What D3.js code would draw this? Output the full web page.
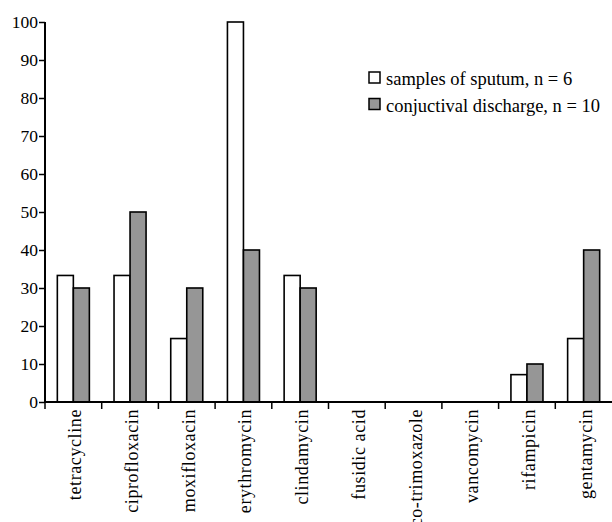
<!DOCTYPE html>
<html>
<head>
<meta charset="utf-8">
<script src="https://cdn.jsdelivr.net/npm/d3@7"></script>
<style>
  body { margin: 0; background: #fff; }
</style>
</head>
<body>
<script>
// Data
var drugs = ["tetracycline", "ciprofloxacin", "moxifloxacin", "erythromycin", "clindamycin",
    "fusidic acid", "co-trimoxazole", "vancomycin", "rifampicin", "gentamycin"];
var sputum = [33.3, 33.3, 16.7, 100, 33.3, 0, 0, 0, 7.2, 16.7];
var conjunctival = [30, 50, 30, 40, 30, 0, 0, 0, 10, 40];
var seriesNames = ["samples of sputum, n = 6", "conjuctival discharge, n = 10"];
var seriesColors = ["#ffffff", "#969696"];
var yTicks = [0, 10, 20, 30, 40, 50, 60, 70, 80, 90, 100];

var serif = "'Liberation Serif', 'Times New Roman', Times, serif";

// Display
var W = 612, H = 522;
var margin = {top: 22, right: 0, bottom: 120, left: 45};

var svg = d3.select("body").append("svg")
    .attr("width", W)
    .attr("height", H)
    .style("font-family", serif);

var x0 = d3.scaleBand()
    .domain(drugs)
    .range([margin.left, W - margin.right]);

var x1 = d3.scaleBand()
    .domain([0, 1])
    .range([0, x0.bandwidth()])
    .paddingOuter(0.77);

var y = d3.scaleLinear()
    .domain([0, 100])
    .range([H - margin.bottom, margin.top]);

var rows = drugs.map(function(d, i) {
    return {drug: d, values: [sputum[i], conjunctival[i]]};
});

// bars (zero values are not drawn)
var groups = svg.selectAll("g.grp")
    .data(rows)
  .enter().append("g")
    .attr("class", "grp")
    .attr("transform", function(d) { return "translate(" + x0(d.drug) + ",0)"; });

groups.selectAll("rect")
    .data(function(d) {
        return d.values.map(function(v, k) { return {k: k, v: v}; })
            .filter(function(e) { return e.v > 0; });
    })
  .enter().append("rect")
    .attr("x", function(d) { return x1(d.k); })
    .attr("width", x1.bandwidth())
    .attr("y", function(d) { return y(d.v); })
    .attr("height", function(d) { return y(0) - y(d.v); })
    .attr("fill", function(d) { return seriesColors[d.k]; })
    .attr("stroke", "#000")
    .attr("stroke-width", 1.6);

// y axis
var yAxis = svg.append("g")
    .attr("transform", "translate(" + margin.left + ",0)")
    .call(d3.axisLeft(y).tickValues(yTicks).tickSize(6).tickPadding(1).tickFormat(d3.format("d")));
yAxis.attr("font-family", null).attr("font-size", null);
yAxis.select(".domain").attr("stroke-width", 2).attr("d", "M0," + y(100) + "V" + y(0));
yAxis.selectAll(".tick line").attr("stroke-width", 1.5);
yAxis.selectAll("text")
    .style("font-family", serif)
    .style("font-size", "17.5px")
    .attr("fill", "#000");

// x axis: ticks at band boundaries
var xAxisG = svg.append("g")
    .attr("transform", "translate(0," + y(0) + ")");
xAxisG.append("line")
    .attr("x1", margin.left).attr("x2", W)
    .attr("stroke", "#000").attr("stroke-width", 2);
xAxisG.selectAll("line.tk")
    .data(drugs)
  .enter().append("line")
    .attr("class", "tk")
    .attr("x1", function(d) { return x0(d); })
    .attr("x2", function(d) { return x0(d); })
    .attr("y1", 0).attr("y2", 7)
    .attr("stroke", "#000").attr("stroke-width", 1.5);
xAxisG.selectAll("text")
    .data(drugs)
  .enter().append("text")
    .attr("transform", function(d) {
        return "translate(" + (x0(d) + x0.bandwidth() / 2 + 8) + ",7) rotate(-90)";
    })
    .attr("text-anchor", "end")
    .style("font-family", serif)
    .style("font-size", "18px")
    .style("letter-spacing", "0.6px")
    .text(function(d) { return d; });

// legend
var legend = svg.append("g").attr("transform", "translate(369,72)");
var li = legend.selectAll("g")
    .data(seriesNames)
  .enter().append("g")
    .attr("transform", function(d, i) { return "translate(0," + (i * 26.5) + ")"; });
li.append("rect")
    .attr("width", 11).attr("height", 11)
    .attr("fill", function(d, i) { return seriesColors[i]; })
    .attr("stroke", "#000").attr("stroke-width", 1.5);
li.append("text")
    .attr("x", 17).attr("y", 13)
    .style("font-family", serif)
    .style("font-size", "18.5px")
    .text(function(d) { return d; });
</script>
</body>
</html>
